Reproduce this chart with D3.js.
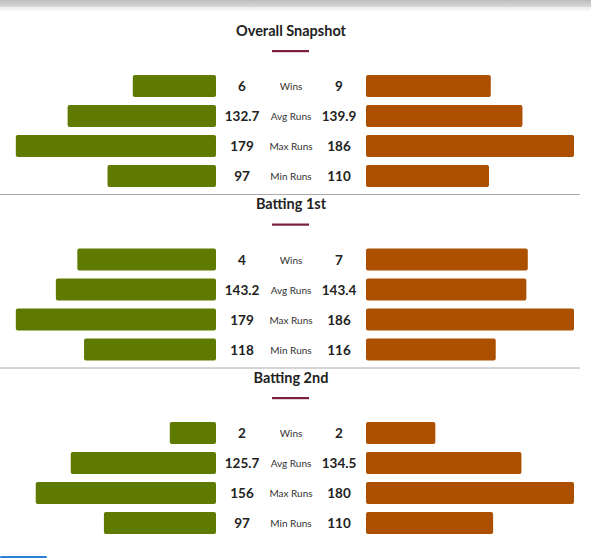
<!DOCTYPE html>
<html>
<head>
<meta charset="utf-8">
<script src="https://cdn.jsdelivr.net/npm/d3@7"></script>
<style>
  html, body { margin: 0; padding: 0; background: #fff; }
  svg { display: block; }
</style>
</head>
<body>
<svg id="chart" width="591" height="558"></svg>
<script>
// ---- data ----
const sections = ["Overall Snapshot", "Batting 1st", "Batting 2nd"];
const metrics = ["Wins", "Avg Runs", "Max Runs", "Min Runs"];
// team A (left, green)
const winsA = [6, 4, 2];
const matchesA = [15, 6, 9];
const avgA = [132.7, 143.2, 125.7];
const maxA = [179, 179, 156];
const minA = [97, 118, 97];
// team B (right, orange)
const winsB = [9, 7, 2];
const matchesB = [15, 9, 6];
const avgB = [139.9, 143.4, 134.5];
const maxB = [186, 186, 180];
const minB = [110, 116, 110];

const svg = d3.select("#chart");
const W = 591;

// top shadow strip
const defs = svg.append("defs");
const grad = defs.append("linearGradient").attr("id", "topShade")
  .attr("x1", 0).attr("y1", 0).attr("x2", 0).attr("y2", 1);
grad.append("stop").attr("offset", "0%").attr("stop-color", "#bcbcbc");
grad.append("stop").attr("offset", "65%").attr("stop-color", "#d9d9d9");
grad.append("stop").attr("offset", "66%").attr("stop-color", "#efefef");
grad.append("stop").attr("offset", "100%").attr("stop-color", "#f7f7f7");
svg.append("rect").attr("x", 0).attr("y", 0).attr("width", W).attr("height", 11)
  .attr("fill", "url(#topShade)");

const sectionY = d3.scaleLinear().domain([0, 1]).range([0, 173.5]);
const rowY = d3.scaleBand().domain(metrics).range([75, 187]).paddingInner(8 / 30).paddingOuter(0);

const barW = 208;
const leftEdge = 216, rightEdge = 366;
const green = "#5e7a00", orange = "#ac5000";

sections.forEach((name, i) => {
  const g = svg.append("g").attr("transform", `translate(0,${sectionY(i)})`);

  g.append("text").attr("x", 291).attr("y", 30).attr("text-anchor", "middle")
    .attr("dominant-baseline", "central")
    .attr("font-family", "Lato, 'Noto Sans', sans-serif").attr("font-weight", 700)
    .attr("font-size", 14.5).attr("fill", "#222").text(name);
  g.append("rect").attr("x", 272).attr("y", 50).attr("width", 37).attr("height", 2.2)
    .attr("fill", "#7b1f3f");

  const runMax = d3.max([avgA[i], maxA[i], minA[i], avgB[i], maxB[i], minB[i]]);
  const runScale = d3.scaleLinear().domain([0, runMax]).range([0, barW]);
  const pctScale = d3.scaleLinear().domain([0, 1]).range([0, barW]);

  const rows = [
    { m: "Wins", a: winsA[i], b: winsB[i], wa: pctScale(winsA[i] / matchesA[i]), wb: pctScale(winsB[i] / matchesB[i]), fmt: d3.format("d") },
    { m: "Avg Runs", a: avgA[i], b: avgB[i], wa: runScale(avgA[i]), wb: runScale(avgB[i]), fmt: d3.format(".1f") },
    { m: "Max Runs", a: maxA[i], b: maxB[i], wa: runScale(maxA[i]), wb: runScale(maxB[i]), fmt: d3.format("d") },
    { m: "Min Runs", a: minA[i], b: minB[i], wa: runScale(minA[i]), wb: runScale(minB[i]), fmt: d3.format("d") }
  ];

  const r = g.selectAll("g.row").data(rows).enter().append("g").attr("class", "row")
    .attr("transform", d => `translate(0,${rowY(d.m)})`);
  const bh = rowY.bandwidth();

  r.append("rect").attr("x", d => leftEdge - d.wa).attr("y", 0).attr("width", d => d.wa)
    .attr("height", bh).attr("rx", 2).attr("fill", green);
  r.append("rect").attr("x", rightEdge).attr("y", 0).attr("width", d => d.wb)
    .attr("height", bh).attr("rx", 2).attr("fill", orange);

  r.append("text").attr("x", 242).attr("y", bh / 2).attr("text-anchor", "middle")
    .attr("dominant-baseline", "central")
    .attr("font-family", "Lato, 'Noto Sans', sans-serif").attr("font-weight", 700)
    .attr("font-size", 13.5).attr("fill", "#222").text(d => d.fmt(d.a));
  r.append("text").attr("x", 339).attr("y", bh / 2).attr("text-anchor", "middle")
    .attr("dominant-baseline", "central")
    .attr("font-family", "Lato, 'Noto Sans', sans-serif").attr("font-weight", 700)
    .attr("font-size", 13.5).attr("fill", "#222").text(d => d.fmt(d.b));
  r.append("text").attr("x", 291).attr("y", bh / 2).attr("text-anchor", "middle")
    .attr("dominant-baseline", "central")
    .attr("font-family", "Lato, 'Noto Sans', sans-serif").attr("font-weight", 400)
    .attr("font-size", 10).attr("fill", "#333").text(d => d.m);

  if (i < sections.length - 1) {
    g.append("line").attr("x1", 0).attr("x2", 580).attr("y1", 194.5).attr("y2", 194.5)
      .attr("stroke", "#aaaaaa").attr("stroke-width", 1);
  }
});

// small blue strip at bottom-left
svg.append("rect").attr("x", 0).attr("y", 556).attr("width", 47).attr("height", 2)
  .attr("rx", 1).attr("fill", "#2a7fd6");
</script>
</body>
</html>
